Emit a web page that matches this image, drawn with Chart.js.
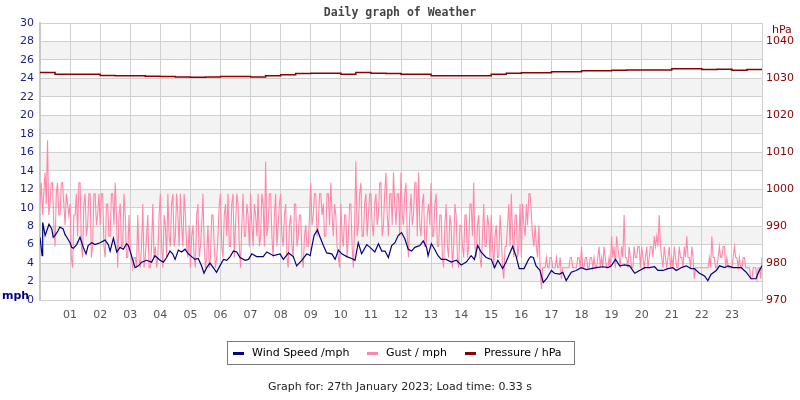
<!DOCTYPE html>
<html>
<head>
<meta charset="utf-8">
<script src="https://cdn.jsdelivr.net/npm/chart.js@4/dist/chart.umd.min.js"></script>
<style>
html,body{margin:0;padding:0;background:#fff;}
#wrap{position:relative;width:800px;height:400px;overflow:hidden;}
canvas{position:absolute;left:0;top:0;}
#title{position:absolute;top:5px;left:0;width:800px;text-align:center;font:bold 11.5px "DejaVu Sans Mono",monospace;color:#444;}
#legend{position:absolute;left:227px;top:341px;width:346px;height:22px;border:1px solid #777;font:11px "DejaVu Sans",sans-serif;color:#000;}
#legend .mk{position:absolute;top:10px;width:11px;height:3px;}
#legend .tx{position:absolute;top:0;line-height:22px;white-space:nowrap;}
#footer{position:absolute;top:380px;left:0;width:800px;text-align:center;font:11px "DejaVu Sans",sans-serif;color:#222;}
</style>
</head>
<body>
<div id="wrap">
<canvas id="c" width="800" height="400"></canvas>
<div id="title">Daily graph of Weather</div>
<div id="legend">
  <span class="mk" style="left:5px;background:#000080"></span><span class="tx" style="left:24px">Wind Speed /mph</span>
  <span class="mk" style="left:139px;background:#ff88aa"></span><span class="tx" style="left:158px">Gust / mph</span>
  <span class="mk" style="left:237px;background:#8b0000"></span><span class="tx" style="left:256px">Pressure / hPa</span>
</div>
<div id="footer">Graph for: 27th January 2023; Load time: 0.33 s</div>
</div>
<script>
// ---- data ----
const hourLabels = ['01','02','03','04','05','06','07','08','09','10','11','12','13','14','15','16','17','18','19','20','21','22','23'];
const leftTicks = [0,2,4,6,8,10,12,14,16,18,20,22,24,26,28,30];
const rightTicks = [970,980,990,1000,1010,1020,1030,1040];

const windHours = [0,0.07,0.09,0.17,0.3,0.39,0.44,0.5,0.6,0.66,0.77,0.83,0.89,1.0,1.05,1.11,1.22,1.33,1.44,1.53,1.6,1.72,1.83,2.0,2.16,2.27,2.33,2.44,2.55,2.66,2.77,2.88,2.94,3.04,3.16,3.27,3.38,3.54,3.71,3.82,3.99,4.1,4.21,4.32,4.41,4.49,4.6,4.71,4.82,4.93,5.04,5.15,5.26,5.37,5.45,5.54,5.65,5.76,5.87,5.98,6.1,6.21,6.32,6.43,6.54,6.65,6.82,6.93,7.04,7.2,7.31,7.42,7.54,7.76,7.98,8.09,8.26,8.42,8.53,8.7,8.87,8.98,9.11,9.22,9.31,9.42,9.53,9.7,9.81,9.92,10.03,10.2,10.36,10.47,10.58,10.69,10.86,10.97,11.13,11.25,11.36,11.47,11.58,11.69,11.8,11.91,12.02,12.13,12.24,12.35,12.46,12.63,12.74,12.85,12.9,13.01,13.12,13.23,13.34,13.5,13.67,13.84,14.0,14.17,14.33,14.44,14.55,14.66,14.83,15.0,15.11,15.22,15.38,15.49,15.71,15.82,15.93,16.09,16.24,16.31,16.4,16.49,16.62,16.73,16.84,17.0,17.1,17.27,17.38,17.49,17.66,17.82,17.99,18.16,18.32,18.49,18.71,18.88,18.99,19.13,19.27,19.43,19.6,19.77,19.93,20.1,20.26,20.43,20.54,20.71,20.87,21.04,21.15,21.31,21.48,21.64,21.75,21.92,22.09,22.2,22.31,22.48,22.59,22.76,22.87,23.04,23.2,23.31,23.48,23.64,23.8,23.9,24.0];
const windSpeed = [6.8,4.8,8.4,7.0,8.2,7.7,6.8,7.0,7.5,7.9,7.7,7.1,6.8,6.2,5.7,5.6,6.0,6.8,5.7,5.0,5.9,6.2,6.0,6.2,6.5,6.0,5.3,6.7,5.2,5.7,5.5,6.1,5.9,4.8,3.5,3.7,4.1,4.3,4.1,4.8,4.3,4.1,4.6,5.3,5.0,4.4,5.4,5.2,5.5,5.0,4.7,4.4,4.5,3.7,2.9,3.5,4.0,3.5,3.0,3.7,4.4,4.3,4.7,5.3,5.2,4.6,4.3,4.4,5.0,4.7,4.7,4.7,5.2,4.8,5.0,4.4,5.1,4.7,3.7,4.3,5.0,4.8,7.0,7.6,6.8,5.9,5.1,5.0,4.4,5.4,5.0,4.7,4.5,4.3,6.2,5.0,6.0,5.7,5.2,6.1,5.3,5.3,4.6,5.9,6.2,7.0,7.3,6.6,5.5,5.3,5.7,5.9,6.4,5.7,4.8,6.1,5.5,4.8,4.4,4.4,4.1,4.3,3.8,4.1,4.8,4.4,5.9,5.2,4.6,4.4,3.5,4.3,3.4,4.1,5.8,4.8,3.4,3.4,4.4,4.7,4.6,3.7,3.2,1.9,2.3,3.2,2.9,2.8,3.0,2.1,3.0,3.2,3.5,3.3,3.4,3.5,3.6,3.5,3.7,4.4,3.7,3.8,3.7,2.9,3.2,3.5,3.5,3.6,3.2,3.2,3.4,3.5,3.2,3.5,3.7,3.4,3.4,2.9,2.6,2.1,2.8,3.2,3.7,3.5,3.7,3.5,3.5,3.5,3.0,2.3,2.3,3.1,3.7];

// gust, one value every 2.5 minutes (24 per hour) plus the value at 24:00
const gustStepMinutes = 2.5;
const gust = [
 10.4,12.7,9.2,11.5,13.8,10.4,17.3,9.2,10.4,12.7,12.7,8.1,5.8,11.5,12.7,9.2,9.2,12.7,12.7,10.4,8.1,11.5,10.4,9.2,
 10.4,4.6,3.5,9.2,9.2,11.5,6.9,12.7,12.7,5.8,4.6,10.4,11.5,6.9,8.1,11.5,11.5,4.6,5.8,11.5,11.5,8.1,9.2,11.5,
 8.1,11.5,11.5,5.8,4.6,10.4,10.4,6.9,6.9,11.5,11.5,8.1,12.7,9.2,3.5,9.2,10.4,5.8,5.8,11.5,9.2,4.6,4.6,9.2,
 5.8,4.6,3.5,4.6,4.6,3.5,9.2,4.6,3.5,5.8,10.4,3.5,4.6,6.9,9.2,3.5,3.5,5.8,10.4,4.6,5.8,3.5,4.6,9.2,
 11.5,5.8,3.5,9.2,8.1,4.6,11.5,6.9,5.8,10.4,11.5,5.8,6.9,11.5,9.2,5.8,11.5,8.1,5.8,11.5,9.2,5.8,4.6,8.1,
 3.5,6.9,8.1,4.6,3.5,9.2,10.4,4.6,5.8,8.1,11.5,5.8,3.5,4.6,8.1,3.5,4.6,9.2,9.2,5.8,3.5,4.6,6.9,10.4,
 11.5,5.8,4.6,9.2,10.4,6.9,11.5,5.8,5.8,10.4,11.5,4.6,8.1,11.5,10.4,5.8,3.5,8.1,11.5,6.9,6.9,10.4,9.2,5.8,
 11.5,8.1,5.8,10.4,9.2,6.9,11.5,5.8,6.9,11.5,10.4,5.8,15.0,6.9,8.1,11.5,11.5,6.9,4.6,9.2,11.5,5.8,8.1,10.4,
 11.5,6.9,5.8,9.2,10.4,4.6,3.5,8.1,9.2,5.8,4.6,10.4,10.4,5.8,6.9,9.2,9.2,4.6,3.5,6.9,8.1,5.8,5.8,9.2,
 12.7,8.1,9.2,11.5,11.5,6.9,8.1,11.5,11.5,9.2,10.4,6.9,6.9,11.5,11.5,8.1,12.7,9.2,6.9,10.4,9.2,5.8,4.6,3.5,
 10.4,6.9,5.8,9.2,9.2,4.6,6.9,10.4,10.4,5.8,3.5,8.1,15.0,6.9,8.1,11.5,12.7,6.9,6.9,10.4,11.5,6.9,9.2,11.5,
 11.5,8.1,6.9,10.4,11.5,8.1,9.2,12.7,12.7,6.9,8.1,11.5,13.8,9.2,6.9,11.5,11.5,8.1,13.8,10.4,8.1,11.5,11.5,6.9,
 13.8,9.2,8.1,11.5,12.7,6.9,4.6,9.2,11.5,8.1,9.2,12.7,12.7,6.9,13.8,8.1,6.9,10.4,11.5,5.8,5.8,9.2,10.4,8.1,
 12.7,6.9,6.9,10.4,11.5,5.8,5.8,9.2,9.2,4.6,3.5,8.1,10.4,5.8,4.6,9.2,8.1,3.5,5.8,10.4,9.2,4.6,3.5,8.1,
 8.1,5.8,4.6,9.2,9.2,4.6,5.8,10.4,10.4,6.9,12.7,5.8,4.6,8.1,9.2,4.6,3.5,6.9,10.4,5.8,5.8,9.2,8.1,4.6,
 9.2,5.8,3.5,6.9,8.1,4.6,4.6,9.2,6.9,3.5,2.3,5.8,5.8,8.1,10.4,5.8,11.5,6.9,4.6,9.2,9.2,4.6,5.8,10.4,
 4.6,10.4,8.1,6.9,10.4,8.1,11.5,11.5,9.2,6.9,5.8,8.1,5.8,4.6,8.1,3.5,1.2,3.5,3.5,3.5,4.6,3.5,3.5,4.6,
 4.6,3.5,3.5,3.5,4.6,3.5,3.5,4.6,2.3,3.5,3.5,3.5,3.5,3.5,3.5,4.6,4.6,3.5,3.5,3.5,3.5,4.6,4.6,3.5,
 5.8,3.5,3.5,4.6,4.6,3.5,3.5,4.6,4.6,3.5,4.6,3.5,3.5,4.6,5.8,3.5,4.6,3.5,5.8,4.6,3.5,3.5,4.6,3.5,
 6.9,4.6,5.8,3.5,6.9,5.8,4.6,3.5,5.8,4.6,9.2,4.6,4.6,3.5,5.8,4.6,3.5,3.5,5.8,4.6,4.6,5.8,5.8,3.5,
 5.8,4.6,3.5,4.6,5.8,3.5,4.6,5.8,5.8,4.6,6.9,5.8,6.9,5.8,9.2,5.8,4.6,3.5,5.8,4.6,3.5,4.6,5.8,3.5,
 4.6,3.5,5.8,4.6,3.5,3.5,5.8,4.6,4.6,3.5,5.8,4.6,6.9,4.6,4.6,3.5,5.8,4.6,2.3,3.5,3.5,3.5,3.5,3.5,
 3.5,3.5,3.5,3.5,3.5,3.5,4.6,3.5,6.9,4.6,4.6,3.5,3.5,4.6,5.8,4.6,4.6,5.8,5.8,3.5,4.6,3.5,3.5,3.5,
 3.5,4.6,5.8,4.6,4.6,3.5,4.6,3.5,3.5,4.6,4.6,3.5,3.5,3.5,3.5,2.3,2.3,3.5,3.5,3.5,2.3,3.5,3.5,2.3,
 4.6
];

// pressure, one value every 30 minutes
const pressureStepMinutes = 30;
const pressure = [1031.6,1031.1,1031.1,1031.1,1030.8,1030.7,1030.7,1030.6,1030.5,1030.4,1030.3,1030.4,1030.5,1030.5,1030.4,1030.7,1031.0,1031.3,1031.4,1031.4,1031.1,1031.6,1031.4,1031.3,1031.1,1031.1,1030.7,1030.7,1030.7,1030.7,1031.1,1031.4,1031.5,1031.5,1031.8,1031.8,1032.1,1032.1,1032.2,1032.3,1032.3,1032.3,1032.6,1032.6,1032.4,1032.5,1032.2,1032.4,1032.7];

// ---- build points ----
const windPts = windHours.map((h,i)=>({x:h,y:windSpeed[i]}));
const gustPts = gust.map((v,i)=>({x:i*gustStepMinutes/60,y:v}));
const presPts = pressure.map((v,i)=>({x:i*pressureStepMinutes/60,y:v}));

const bands = {
  id:'bands',
  beforeDraw(chart){
    const {ctx, chartArea:a, scales:{y}} = chart;
    ctx.save();
    ctx.fillStyle = '#f3f3f3';
    for (let i=1;i<leftTicks.length-1;i+=2){
      const lo = leftTicks[i], hi = leftTicks[i+1];
      const yt = y.getPixelForValue(hi), yb = y.getPixelForValue(lo);
      ctx.fillRect(a.left, yt, a.right-a.left, yb-yt);
    }
    ctx.restore();
  },
  afterDraw(chart){
    const {ctx, chartArea:a} = chart;
    ctx.save();
    ctx.font = 'bold 11px "DejaVu Sans", sans-serif';
    ctx.fillStyle = '#000080';
    ctx.textBaseline = 'middle';
    ctx.textAlign = 'left';
    ctx.fillText('mph', 2, a.bottom-4);
    ctx.font = '11px "DejaVu Sans", sans-serif';
    ctx.fillStyle = '#8b0000';
    ctx.fillText('hPa', a.right+10, a.top+7);
    ctx.restore();
  }
};

new Chart(document.getElementById('c'), {
  type:'line',
  data:{
    datasets:[
      {label:'Wind Speed /mph', data:windPts, borderColor:'#000080', borderWidth:1.2, pointRadius:0, yAxisID:'y', tension:0},
      {label:'Gust / mph', data:gustPts, borderColor:'#ff88aa', borderWidth:1.1, pointRadius:0, yAxisID:'y', tension:0},
      {label:'Pressure / hPa', data:presPts, borderColor:'#8b0000', borderWidth:1.5, pointRadius:0, yAxisID:'y1', stepped:'before'}
    ]
  },
  options:{
    responsive:false, animation:false, events:[],
    layout:{padding:{top:23,bottom:80,left:0,right:0}},
    plugins:{legend:{display:false}, title:{display:false}, tooltip:{enabled:false}},
    scales:{
      x:{type:'linear', min:0, max:24,
        afterBuildTicks(s){ s.ticks = Array.from({length:25},(_,i)=>({value:i})); },
        afterFit(s){ s.height = 20; },
        grid:{color:'#d0d0d0', drawTicks:false},
        border:{color:'#d0d0d0'},
        ticks:{padding:9, color:'#555', font:{family:'DejaVu Sans', size:11}, maxRotation:0, autoSkip:false,
          callback:(v)=> (v>0 && v<24) ? hourLabels[v-1] : ''}
      },
      y:{position:'left', min:0, max:30,
        afterBuildTicks(s){ s.ticks = leftTicks.map(v=>({value:v})); },
        afterFit(s){ s.width = 40; },
        grid:{color:'#d0d0d0', drawTicks:false},
        border:{color:'#c8c8c8', width:2},
        ticks:{padding:6, color:'#1c1c8c', font:{family:'DejaVu Sans', size:11}, callback:(v)=>String(v)}
      },
      y1:{position:'right', min:970, max:1045,
        afterBuildTicks(s){ s.ticks = rightTicks.map(v=>({value:v})); },
        afterFit(s){ s.width = 38; },
        grid:{display:false, drawTicks:false},
        border:{display:false},
        ticks:{padding:4, color:'#8b0000', font:{family:'DejaVu Sans', size:11}, callback:(v)=>String(v)}
      }
    }
  },
  plugins:[bands]
});
</script>
</body>
</html>
